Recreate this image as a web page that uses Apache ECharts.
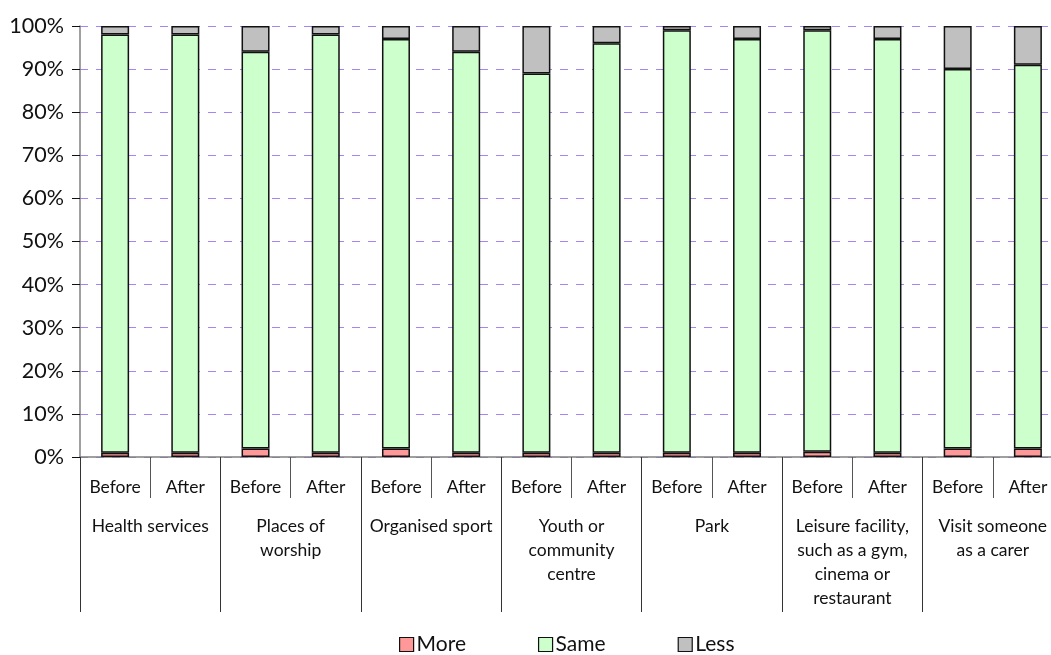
<!DOCTYPE html>
<html>
<head>
<meta charset="utf-8">
<script src="https://cdn.jsdelivr.net/npm/echarts@6/dist/echarts.min.js"></script>
<style>html,body{margin:0;padding:0;background:#fff}#c{width:1051px;height:655px}</style>
</head>
<body>
<div id="c"></div>
<script>
const groups = ["Health services","Places of\nworship","Organised sport","Youth or\ncommunity\ncentre","Park","Leisure facility,\nsuch as a gym,\ncinema or\nrestaurant","Visit someone\nas a carer"];
const periods = ["Before","After","Before","After","Before","After","Before","After","Before","After","Before","After","Before","After"];
const more = [1,1,2,1,2,1,1,1,1,1,1.2,1,2,2];
const same = [97,97,92,97,95,93,88,95,98,96,97.8,96,88,89];
const less = [2,2,6,2,3,6,11,4,1,3,1,3,10,9];
const yTicks = [0,10,20,30,40,50,60,70,80,90,100];

const font = "Lato, 'Open Sans', sans-serif";
const chart = echarts.init(document.getElementById('c'));
const barStyle = c => ({color: c, borderColor: '#111', borderWidth: 1.5});
chart.setOption({
  animation: false,
  textStyle: {fontFamily: font, color: '#111'},
  grid: {left: 80, top: 26, width: 983, bottom: 198, containLabel: false, outerBoundsMode: 'none'},
  legend: {
    top: 634, left: 399, padding: 0, itemGap: 72, itemWidth: 14, itemHeight: 14,
    icon: 'rect',
    itemStyle: {borderColor: '#111', borderWidth: 1.2},
    textStyle: {fontSize: 21, fontFamily: font, color: '#111', padding: [0,0,0,-2]},
    data: ['More','Same','Less']
  },
  xAxis: [
    {type: 'category', data: periods, position: 'bottom',
     axisLine: {show: true, lineStyle: {color: '#808080', width: 1.5}},
     axisTick: {show: true, interval: 0, length: 41, lineStyle: {color: '#555'}},
     axisLabel: {interval: 0, fontSize: 17.5, margin: 21, color: '#111', fontFamily: font}},
    {type: 'category', data: groups, position: 'bottom',
     axisLine: {show: false},
     axisTick: {show: true, interval: 0, length: 155, lineStyle: {color: '#333'}},
     axisLabel: {interval: 0, fontSize: 17.5, margin: 57, color: '#111', fontFamily: font, lineHeight: 24, verticalAlign: 'top', align: 'center'}}
  ],
  yAxis: {
    type: 'value', min: 0, max: 100, interval: 10,
    axisLine: {show: true, lineStyle: {color: '#808080', width: 1.5}},
    axisTick: {show: true, length: 8, inside: false, lineStyle: {color: '#111'}},
    axisLabel: {formatter: v => yTicks.includes(v) ? v + '%' : '', fontSize: 21.5, margin: 16, color: '#111', fontFamily: font},
    splitLine: {show: true, lineStyle: {color: '#a385f5', type: [8, 8], width: 1}}
  },
  series: [
    {name: 'More', type: 'bar', stack: 's', data: more, barWidth: 28, itemStyle: barStyle('#ff9999')},
    {name: 'Same', type: 'bar', stack: 's', data: same, barWidth: 28, itemStyle: barStyle('#ccffcc')},
    {name: 'Less', type: 'bar', stack: 's', data: less, barWidth: 28, itemStyle: barStyle('#c0c0c0')}
  ]
});
</script>
</body>
</html>
